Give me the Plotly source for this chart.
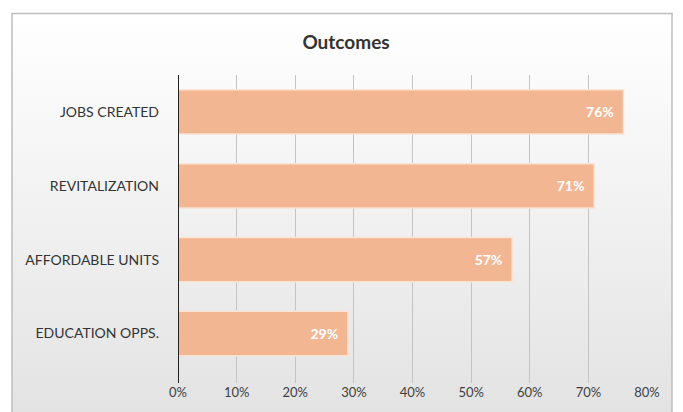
import plotly.graph_objects as go
import base64

categories = ["EDUCATION OPPS.", "AFFORDABLE UNITS", "REVITALIZATION", "JOBS CREATED"]
values = [29, 57, 71, 76]
tick_vals = [0, 10, 20, 30, 40, 50, 60, 70, 80]
tick_text = ["0%", "10%", "20%", "30%", "40%", "50%", "60%", "70%", "80%"]

svg = ('<svg xmlns="http://www.w3.org/2000/svg" width="100" height="100" preserveAspectRatio="none">'
       '<defs><linearGradient id="g" x1="0" y1="0" x2="0" y2="1">'
       '<stop offset="0" stop-color="#ffffff"/><stop offset="1" stop-color="#e3e3e3"/>'
       '</linearGradient></defs><rect width="100" height="100" fill="url(#g)"/></svg>')
bg = "data:image/svg+xml;base64," + base64.b64encode(svg.encode()).decode()

W, H = 683, 412
L, R, T, B = 178, 36, 75, 27
pw, ph = W - L - R, H - T - B

def px(x):
    return (x - L) / pw

def py(y):
    return (H - B - y) / ph

fig = go.Figure()
fig.add_trace(go.Bar(
    y=categories, x=values, orientation="h",
    marker=dict(color="#F3B692", line=dict(color="#FBE3D3", width=1.5)),
    text=[f"{v}%\u00a0\u00a0" for v in values], textposition="inside", insidetextanchor="end",
    textfont=dict(color="white", size=14, family="Lato", weight="bold"),
    constraintext="none",
    width=0.6, hoverinfo="skip", cliponaxis=False,
))

fig.update_layout(
    width=W, height=H,
    margin=dict(l=L, r=R, t=T, b=B),
    paper_bgcolor="white", plot_bgcolor="rgba(0,0,0,0)",
    showlegend=False,
    uniformtext=dict(minsize=14, mode="show"),
    title=dict(text="<b>Outcomes</b>", x=346 / W, xanchor="center",
               y=1 - 42 / H, yanchor="middle",
               font=dict(family="Lato", size=19, color="#333333")),
    xaxis=dict(range=[0, 80], tickvals=tick_vals, ticktext=tick_text,
               showgrid=True, gridcolor="#c4c4c4", gridwidth=1,
               zeroline=False, showline=False, ticks="",
               tickfont=dict(family="Lato", size=13, color="#404040")),
    yaxis=dict(range=[-0.67, 3.5], showgrid=False, zeroline=False,
               showline=False, ticks="", ticklabelstandoff=18,
               tickfont=dict(family="Lato", size=14, color="#333333")),
    images=[dict(source=bg, xref="paper", yref="paper", x=px(12), y=py(13),
                 sizex=px(672) - px(12), sizey=py(13) - py(415),
                 sizing="stretch", layer="below", xanchor="left", yanchor="top")],
    shapes=[
        dict(type="rect", xref="paper", yref="paper", x0=px(12), x1=px(672),
             y0=py(415), y1=py(13), line=dict(color="#bdbdbd", width=1.5)),
        dict(type="line", xref="x", yref="paper", x0=0, x1=0, y0=0, y1=1,
             line=dict(color="#222222", width=2)),
    ],
)

fig.write_html("out.html")
